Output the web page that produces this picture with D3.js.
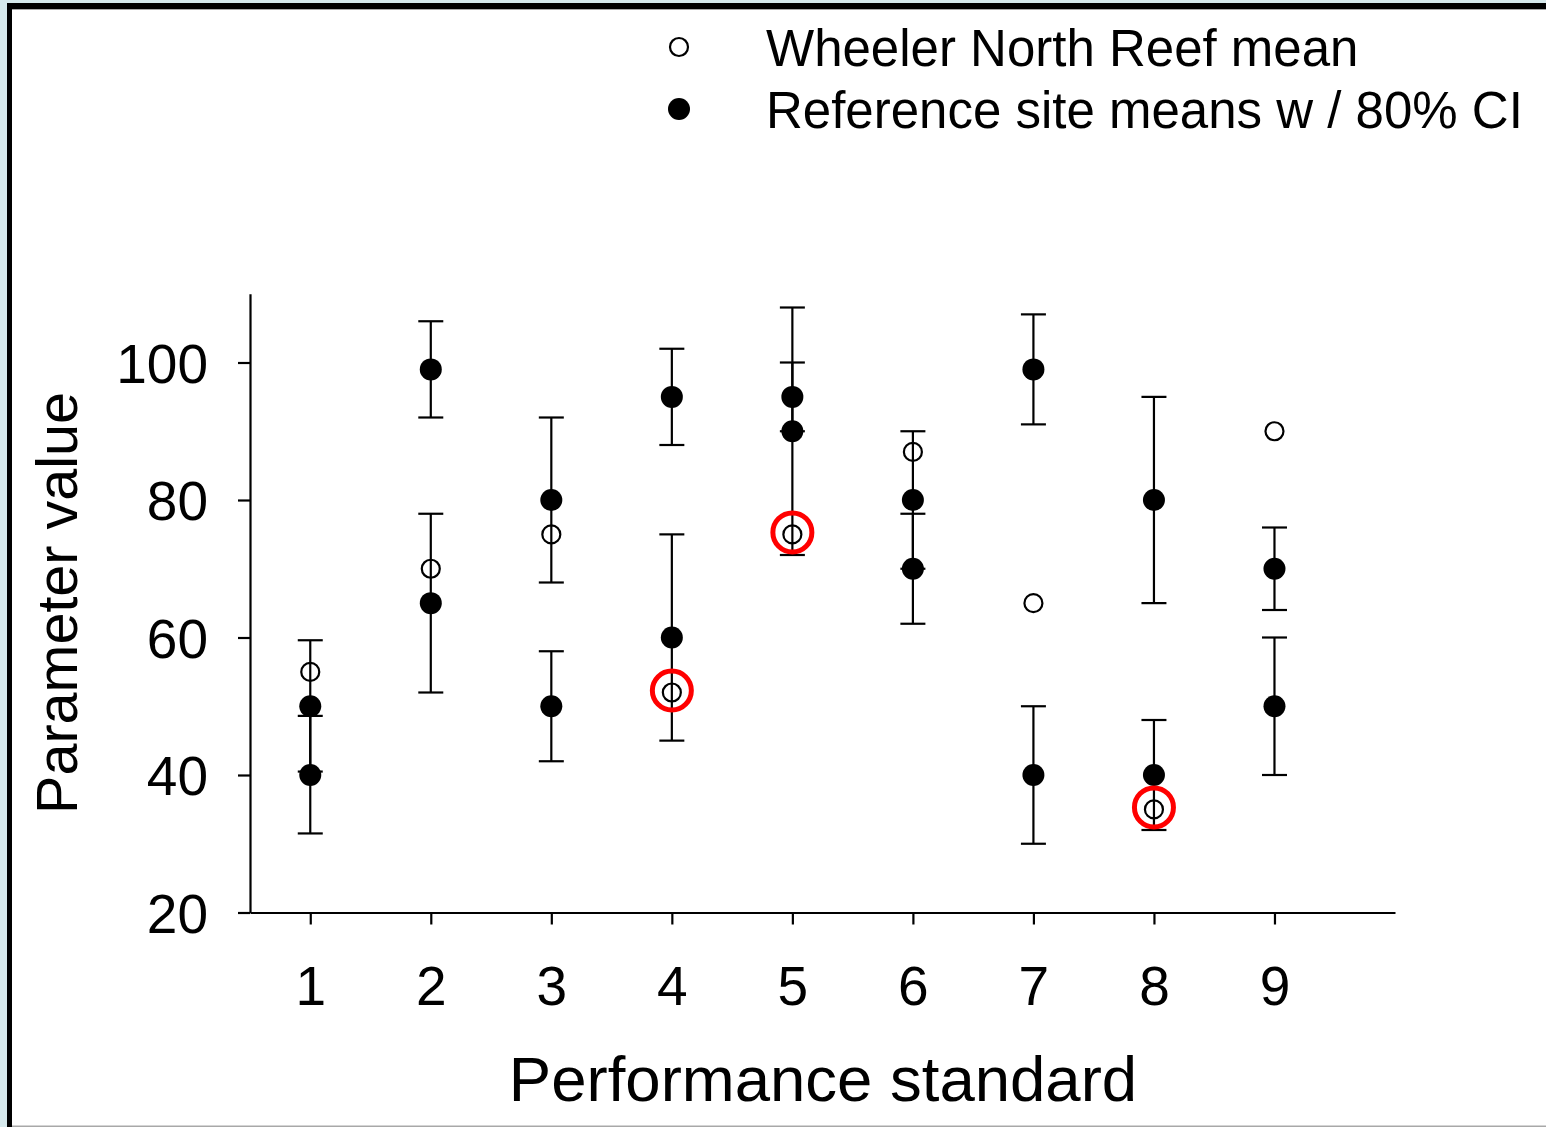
<!DOCTYPE html>
<html>
<head>
<meta charset="utf-8">
<script src="https://cdn.jsdelivr.net/npm/d3@7/dist/d3.min.js"></script>
<style>
  html, body { margin: 0; padding: 0; background: #d6e9ec; }
  svg { display: block; font-family: "Liberation Sans", Arial, sans-serif; }
</style>
</head>
<body>
<div id="chart"></div>
<script>
// performance standards on the x axis
const standards = [1, 2, 3, 4, 5, 6, 7, 8, 9];
// Wheeler North Reef mean (open circles)
const wnrMean = [55, 70, 75, 52, 75, 87, 65, 35, 90];
// reference site means, first group, with 80% CI
const refMeanA = [50, 99, 80, 95, 95, 80, 99, 80, 70];
const refLoA = [40.5, 92, 68, 88, 90, 70, 91, 65, 64];
const refHiA = [59.6, 106, 92, 102, 108, 90, 107, 95, 76];
// reference site means, second group, with 80% CI
const refMeanB = [40, 65, 50, 60, 90, 70, 40, 40, 50];
const refLoB = [31.5, 52, 42, 45, 72, 62, 30, 32, 40];
const refHiB = [48.6, 78, 58, 75, 100, 78, 50, 48, 60];
// standards where the WNR mean is highlighted
const flagged = [4, 5, 8];
const yTicks = [20, 40, 60, 80, 100];
const legendLabels = ['Wheeler North Reef mean', 'Reference site means w / 80% CI'];

const W = 1546, H = 1127;

const svg = d3.select('#chart').append('svg')
    .attr('width', W)
    .attr('height', H);

// frame
svg.append('rect').attr('x', 7).attr('y', 3).attr('width', W).attr('height', H).attr('fill', '#000');
svg.append('rect').attr('x', 12).attr('y', 9).attr('width', W).attr('height', H).attr('fill', '#a8a8a8');
svg.append('rect').attr('x', 12).attr('y', 10).attr('width', W).attr('height', H - 11.5).attr('fill', '#fff');

const x = d3.scaleLinear().domain([0.5, 10]).range([250, 1395]);
const y = d3.scaleLinear().domain([20, 110]).range([912.5, 293.75]);

// axes
const yAxis = svg.append('g')
    .attr('transform', 'translate(250,0)')
    .call(d3.axisLeft(y).tickValues(yTicks).tickSize(12).tickSizeOuter(0).tickPadding(30));
const xAxis = svg.append('g')
    .attr('transform', 'translate(0,912.5)')
    .call(d3.axisBottom(x).tickValues(standards).tickSize(12).tickSizeOuter(0).tickPadding(41));

[yAxis, xAxis].forEach(g => {
    g.select('.domain').attr('stroke', '#000').attr('stroke-width', 2.2);
    g.selectAll('.tick line').attr('stroke', '#000').attr('stroke-width', 2.2);
    g.selectAll('.tick text')
        .attr('fill', '#000')
        .style('font-size', '55px')
        .style('font-family', '"Liberation Sans", Arial, sans-serif');
});
yAxis.selectAll('.tick text').attr('dy', '0.36em');
xAxis.selectAll('.tick text').attr('dy', '0.71em');

// axis titles
svg.append('text')
    .attr('x', 823)
    .attr('y', 1101)
    .attr('text-anchor', 'middle')
    .style('font-size', '63.5px')
    .text('Performance standard');
svg.append('text')
    .attr('transform', 'translate(77,603) rotate(-90)')
    .attr('text-anchor', 'middle')
    .style('font-size', '57.5px')
    .text('Parameter value');

// reference site points with CI bars
const refs = [];
standards.forEach((s, i) => {
    refs.push({ s: s, mean: refMeanA[i], lo: refLoA[i], hi: refHiA[i] });
    refs.push({ s: s, mean: refMeanB[i], lo: refLoB[i], hi: refHiB[i] });
});

const cap = 12.5;
const bars = svg.append('g').attr('stroke', '#000').attr('stroke-width', 2.2);
bars.selectAll('.stem').data(refs).enter().append('line')
    .attr('x1', d => x(d.s)).attr('x2', d => x(d.s))
    .attr('y1', d => y(d.lo)).attr('y2', d => y(d.hi));
bars.selectAll('.capHi').data(refs).enter().append('line')
    .attr('x1', d => x(d.s) - cap).attr('x2', d => x(d.s) + cap)
    .attr('y1', d => y(d.hi)).attr('y2', d => y(d.hi));
bars.selectAll('.capLo').data(refs).enter().append('line')
    .attr('x1', d => x(d.s) - cap).attr('x2', d => x(d.s) + cap)
    .attr('y1', d => y(d.lo)).attr('y2', d => y(d.lo));

svg.append('g').selectAll('circle').data(refs).enter().append('circle')
    .attr('cx', d => x(d.s))
    .attr('cy', d => y(d.mean))
    .attr('r', 11)
    .attr('fill', '#000');

// WNR means
svg.append('g').selectAll('circle').data(standards).enter().append('circle')
    .attr('cx', d => x(d))
    .attr('cy', (d, i) => y(wnrMean[i]))
    .attr('r', 9)
    .attr('fill', 'none')
    .attr('stroke', '#000')
    .attr('stroke-width', 2.2);

// red highlight rings
svg.append('g').selectAll('circle').data(flagged).enter().append('circle')
    .attr('cx', d => x(d))
    .attr('cy', d => y(wnrMean[d - 1]) - 2)
    .attr('r', 19.5)
    .attr('fill', 'none')
    .attr('stroke', '#ff0000')
    .attr('stroke-width', 5);

// legend
const legend = svg.append('g');
legend.append('circle').attr('cx', 679).attr('cy', 47).attr('r', 9)
    .attr('fill', 'none').attr('stroke', '#000').attr('stroke-width', 2.2);
legend.append('circle').attr('cx', 679).attr('cy', 109).attr('r', 11).attr('fill', '#000');
legend.selectAll('text').data(legendLabels).enter().append('text')
    .attr('x', 766)
    .attr('y', (d, i) => 66 + i * 62)
    .style('font-size', '51px')
    .text(d => d);
</script>
</body>
</html>
